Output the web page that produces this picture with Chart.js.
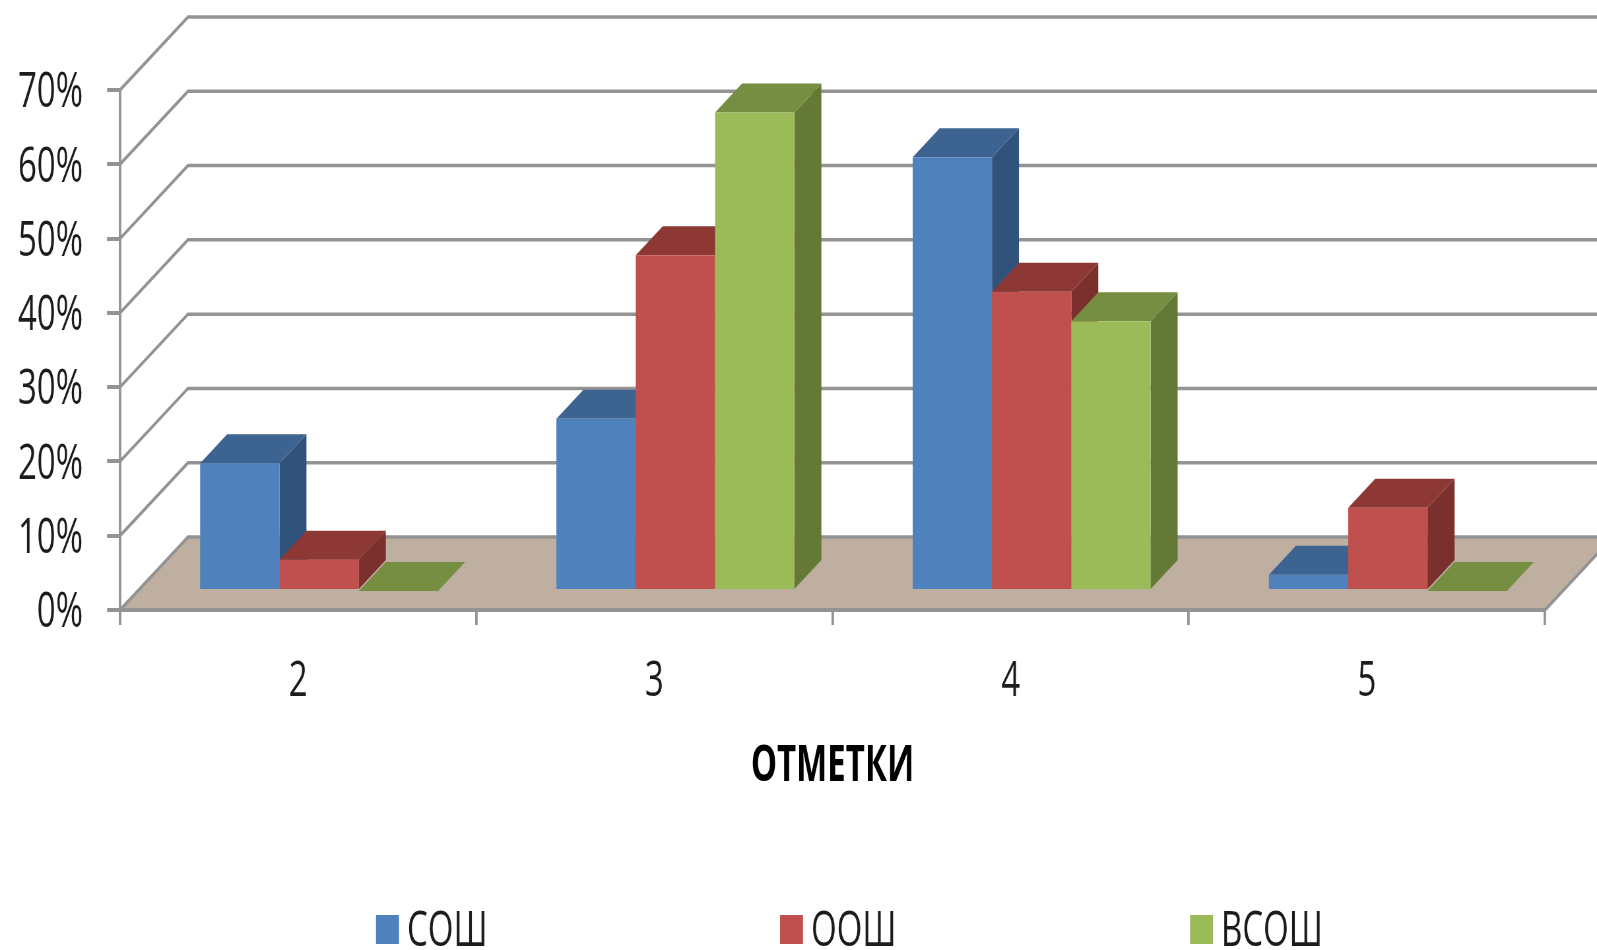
<!DOCTYPE html>
<html lang="ru">
<head>
<meta charset="utf-8">
<title>Отметки</title>
<script src="https://cdn.jsdelivr.net/npm/chart.js@4"></script>
<style>
  html, body { margin: 0; padding: 0; background: #fff; overflow: hidden; }
  /* в оригинале всё сжато по горизонтали, поэтому рисуем шире и сжимаем canvas */
  #wrap { width: 1597px; height: 950px; overflow: hidden; }
  #chart { display: block; transform-origin: 0 0; transform: scaleX(0.65992); filter: blur(0.7px); }
</style>
</head>
<body>
<div id="wrap"><canvas id="chart" width="2420" height="950"></canvas></div>
<script>
  const categories = ['2', '3', '4', '5'];
  const seriesNames = ['СОШ', 'ООШ', 'ВСОШ'];
  const sosh  = [17.2, 23.2, 58.4, 2.2];
  const oosh  = [4.2, 45.2, 40.3, 11.2];
  const vsosh = [0, 64.4, 36.3, 0];
  const yTicks = [0, 10, 20, 30, 40, 50, 60, 70];
  const axisTitle = 'ОТМЕТКИ';

  const SX = 2420 / 1597;
  const FONT = '"Open Sans", sans-serif';
  const TEXT = '#1c1c1c';
  const GRID = '#939393';

  // глубина стен и столбиков
  const WALL = { dx: 68 * SX, dy: 73 };
  const BAR_SHIFT = { dx: 21 * SX, dy: 19 };
  const BAR_DEPTH = { dx: 27 * SX, dy: 29 };

  const colors = [
    { front: '#4F81BD', top: '#3D6391', side: '#31537B' },
    { front: '#C0504D', top: '#8E3836', side: '#7B302E' },
    { front: '#9BBB59', top: '#768E41', side: '#657937' }
  ];

  function poly(ctx, pts, fill) {
    ctx.beginPath();
    pts.forEach((p, i) => (i ? ctx.lineTo(p[0], p[1]) : ctx.moveTo(p[0], p[1])));
    ctx.closePath();
    ctx.fillStyle = fill;
    ctx.fill();
  }

  // пол и линии сетки на стенах
  const wallsPlugin = {
    id: 'walls',
    beforeDraw(chart) {
      const { ctx, chartArea: a, scales: { y } } = chart;
      const bottom = y.getPixelForValue(0);
      ctx.save();
      poly(ctx, [
        [a.left, bottom],
        [a.left + WALL.dx, bottom - WALL.dy],
        [a.right + WALL.dx, bottom - WALL.dy],
        [a.right, bottom]
      ], '#BFAFA1');

      ctx.strokeStyle = GRID;
      ctx.lineWidth = 3.5;
      yTicks.forEach((t) => {
        const py = y.getPixelForValue(t);
        ctx.beginPath();
        ctx.moveTo(a.left, py);
        ctx.lineTo(a.left + WALL.dx, py - WALL.dy);
        ctx.lineTo(a.right + WALL.dx, py - WALL.dy);
        ctx.stroke();
      });
      ctx.beginPath();
      ctx.moveTo(a.right, bottom);
      ctx.lineTo(a.right + WALL.dx, bottom - WALL.dy);
      ctx.stroke();
      ctx.restore();
    }
  };

  // объём столбиков: рисуем слева направо, правый столбик перекрывает левый
  const depthPlugin = {
    id: 'depth',
    beforeDatasetsDraw(chart) {
      const { ctx } = chart;
      ctx.save();
      ctx.translate(BAR_SHIFT.dx, -BAR_SHIFT.dy);
      chart.data.datasets.forEach((ds, i) => {
        const meta = chart.getDatasetMeta(i);
        const c = colors[i];
        meta.data.forEach((bar) => {
          const l = bar.x - bar.width / 2;
          const r = bar.x + bar.width / 2;
          const dx = BAR_DEPTH.dx;
          const dy = BAR_DEPTH.dy;
          poly(ctx, [[r, bar.y], [r + dx, bar.y - dy], [r + dx, bar.base - dy], [r, bar.base]], c.side);
          poly(ctx, [[l, bar.y], [l + dx, bar.y - dy], [r + dx, bar.y - dy], [r, bar.y]], c.top);
        });
        meta.controller.draw();
      });
      ctx.restore();
      return false; // стандартная отрисовка уже не нужна
    }
  };

  // легенда с большими промежутками, как в оригинале
  const legendX = [376, 780, 1190];
  const legendPlugin = {
    id: 'wideLegend',
    afterDraw(chart) {
      const { ctx } = chart;
      ctx.save();
      ctx.font = '50px ' + FONT;
      ctx.textBaseline = 'middle';
      chart.data.datasets.forEach((ds, i) => {
        ctx.fillStyle = ds.backgroundColor;
        ctx.fillRect(legendX[i] * SX, 915, 23 * SX, 29);
        ctx.fillStyle = TEXT;
        ctx.fillText(ds.label, (legendX[i] + 31) * SX, 932);
      });
      ctx.restore();
    }
  };

  const series = [sosh, oosh, vsosh];

  new Chart(document.getElementById('chart'), {
    type: 'bar',
    data: {
      labels: categories,
      datasets: series.map((values, i) => ({
        label: seriesNames[i],
        data: values,
        backgroundColor: colors[i].front,
        categoryPercentage: 0.668,
        barPercentage: 1,
        clip: false
      }))
    },
    plugins: [wallsPlugin, depthPlugin, legendPlugin],
    options: {
      responsive: false,
      animation: false,
      layout: { padding: { top: 90, right: 52 * SX, left: 0, bottom: 0 } },
      plugins: { legend: { display: false }, tooltip: { enabled: false } },
      scales: {
        x: {
          afterFit: (s) => { s.height = 340; },
          grid: { offset: true, drawOnChartArea: false, color: GRID, lineWidth: 2.5 * SX, tickLength: 15 },
          border: { color: GRID, width: 4 },
          ticks: { color: TEXT, font: { family: FONT, size: 50 }, padding: 27, maxRotation: 0 },
          title: {
            display: true,
            text: axisTitle,
            color: '#000',
            font: { family: FONT, size: 50, weight: 'bold' },
            padding: { top: 0, bottom: 153 }
          }
        },
        y: {
          min: 0,
          max: 70,
          afterFit: (s) => { s.width = 120 * SX; },
          afterBuildTicks: (s) => { s.ticks = yTicks.map((v) => ({ value: v })); },
          grid: { drawOnChartArea: false, color: GRID, lineWidth: 4, tickLength: 13 * SX },
          border: { color: GRID, width: 2.5 * SX },
          ticks: {
            color: TEXT,
            font: { family: FONT, size: 50 },
            padding: 24 * SX,
            labelOffset: 3,
            callback: (v) => v + '%'
          }
        }
      }
    }
  });
</script>
</body>
</html>
